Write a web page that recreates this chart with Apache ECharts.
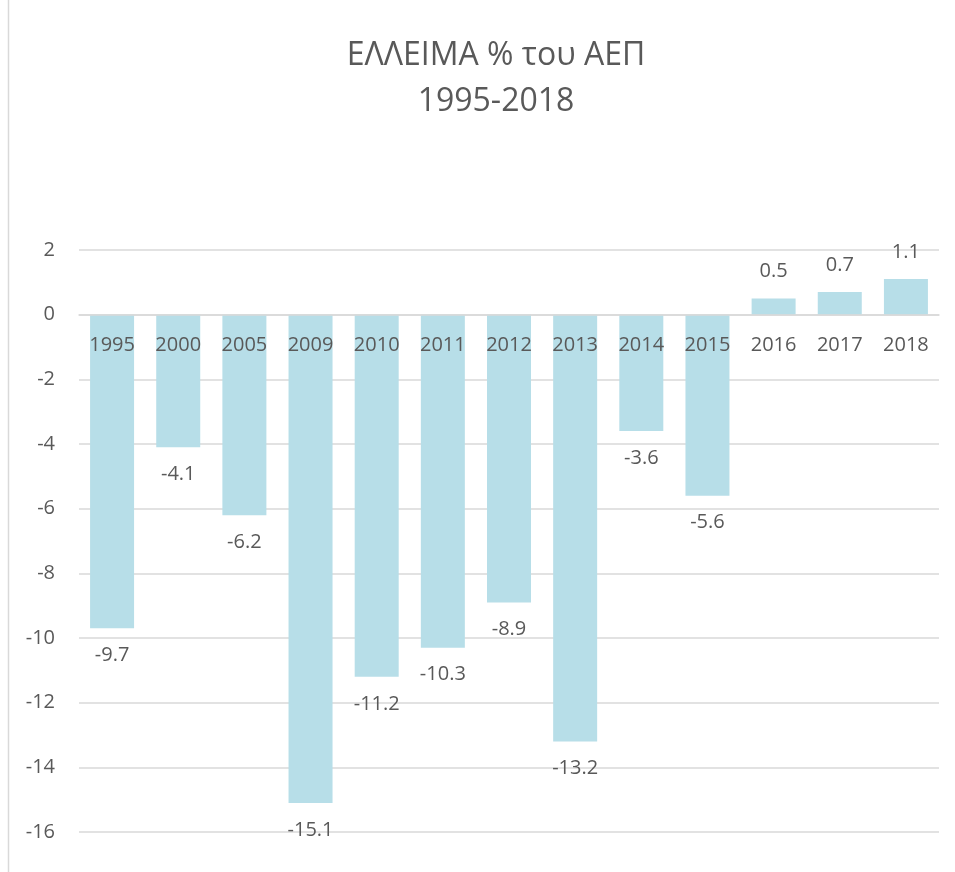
<!DOCTYPE html>
<html>
<head>
<meta charset="utf-8">
<script src="https://cdn.jsdelivr.net/npm/echarts@6/dist/echarts.min.js"></script>
<style>html,body{margin:0;padding:0;background:#fff}#c{width:955px;height:872px}</style>
</head>
<body>
<div id="c"></div>
<script>
var categories = ['1995','2000','2005','2009','2010','2011','2012','2013','2014','2015','2016','2017','2018'];
var values = [-9.7,-4.1,-6.2,-15.1,-11.2,-10.3,-8.9,-13.2,-3.6,-5.6,0.5,0.7,1.1];
var yTicks = {min:-16, max:2, interval:2};
var titleLines = ['ΕΛΛΕΙΜΑ % του ΑΕΠ','1995-2018'];

var chart = echarts.init(document.getElementById('c'));
var font = 'Open Sans';
var txt = '#595959';
var gridTop = 250, gridBottom = 40, H = 872;
var plotH = H - gridTop - gridBottom;
var zeroOffset = -((0 - yTicks.min) / (yTicks.max - yTicks.min)) * plotH;
chart.setOption({
  backgroundColor:'#fff',
  animation:false,
  title:{
    text: titleLines.join('\n'),
    left: 491, top: 28, textAlign:'center',
    textStyle:{fontFamily:font, fontSize:32, fontWeight:'normal', color:txt, lineHeight:46}
  },
  graphic:[{type:'line', shape:{x1:8.5,y1:0,x2:8.5,y2:872}, style:{stroke:'#D9D9D9', lineWidth:1.5}}],
  grid:{left:79, right:16, top:gridTop, bottom:gridBottom, containLabel:false},
  xAxis:{
    type:'category', data:categories, z:10, offset: zeroOffset,
    axisLine:{onZero:false, lineStyle:{color:'#D9D9D9', width:1.5}},
    axisTick:{show:false},
    axisLabel:{fontFamily:font, fontSize:20, color:txt, margin:21}
  },
  yAxis:{
    type:'value', min:yTicks.min, max:yTicks.max, interval:yTicks.interval,
    axisLine:{show:false}, axisTick:{show:false},
    splitLine:{lineStyle:{color:'#D9D9D9', width:1.5}},
    axisLabel:{fontFamily:font, fontSize:20, color:txt, margin:24}
  },
  series:[{
    type:'bar', barWidth:44,
    itemStyle:{color:'#B7DEE8'},
    data: values.map(function(v){
      return {value:v, label:{position: v<0 ? 'bottom':'top'}};
    }),
    label:{show:true, distance:17, fontFamily:font, fontSize:20, color:txt}
  }]
});
</script>
</body>
</html>
